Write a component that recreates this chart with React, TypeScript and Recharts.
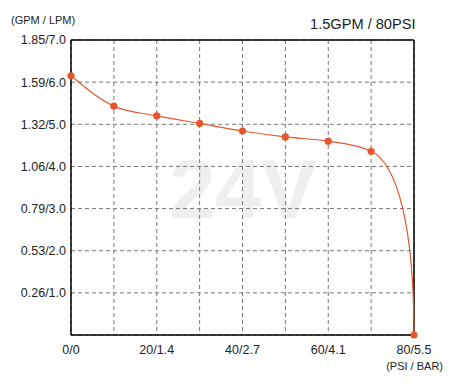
import React from 'react';
import { LineChart, Line, XAxis, YAxis, CartesianGrid, ReferenceLine } from 'recharts';

const pressurePsi = [0, 10, 20, 30, 40, 50, 60, 70, 80];
const flowLpm = [6.15, 5.43, 5.2, 5.02, 4.84, 4.7, 4.6, 4.36, 0];

const xTickValues = [0, 10, 20, 30, 40, 50, 60, 70, 80];
const xTickLabels = ['0/0', '', '20/1.4', '', '40/2.7', '', '60/4.1', '', '80/5.5'];
const yTickValues = [1, 2, 3, 4, 5, 6, 7];
const yTickLabels = ['0.26/1.0', '0.53/2.0', '0.79/3.0', '1.06/4.0', '1.32/5.0', '1.59/6.0', '1.85/7.0'];

const yAxisTitle = '(GPM / LPM)';
const xAxisTitle = '(PSI / BAR)';
const chartTitle = '1.5GPM / 80PSI';
const watermark = '24V';

const data = pressurePsi.map((p, i) => ({ psi: p, lpm: flowLpm[i] }));

const FONT = '"Liberation Sans", Arial, sans-serif';
const ORANGE = '#e4572e';

// Smooth curve: monotone-x tangents, final segment drops into a vertical tangent
function pumpCurve(context: any) {
  let pts: [number, number][] = [];
  return {
    areaStart() {},
    areaEnd() {},
    lineStart() {
      pts = [];
    },
    point(x: number, y: number) {
      pts.push([+x, +y]);
    },
    lineEnd() {
      const n = pts.length;
      if (n === 0) return;
      context.moveTo(pts[0][0], pts[0][1]);
      if (n === 1) return;
      const h: number[] = [];
      const s: number[] = [];
      for (let i = 0; i < n - 1; i++) {
        h[i] = pts[i + 1][0] - pts[i][0];
        s[i] = h[i] ? (pts[i + 1][1] - pts[i][1]) / h[i] : 0;
      }
      const t: number[] = new Array(n).fill(0);
      for (let i = 1; i < n - 1; i++) {
        const s0 = s[i - 1];
        const s1 = s[i];
        const p = (s0 * h[i] + s1 * h[i - 1]) / (h[i - 1] + h[i]);
        t[i] = (Math.sign(s0) + Math.sign(s1)) * Math.min(Math.abs(s0), Math.abs(s1), 0.5 * Math.abs(p)) || 0;
      }
      if (n > 2) {
        t[0] = (3 * s[0] - t[1]) / 2;
        t[n - 1] = (3 * s[n - 2] - t[n - 2]) / 2;
      } else {
        t[0] = s[0];
        t[1] = s[0];
      }
      for (let i = 0; i < n - 1; i++) {
        const [x0, y0] = pts[i];
        const [x1, y1] = pts[i + 1];
        const dx = h[i];
        if (i === n - 2 && n > 2) {
          const dy = y1 - y0;
          context.bezierCurveTo(x0 + 0.6 * dx, y0 + 0.6 * dx * t[i], x1, y1 - 0.6 * dy, x1, y1);
        } else {
          context.bezierCurveTo(x0 + dx / 3, y0 + (dx / 3) * t[i], x1 - dx / 3, y1 - (dx / 3) * t[i + 1], x1, y1);
        }
      }
    },
  };
}

export default function App() {
  return (
    <div style={{ position: 'absolute', left: 0, top: 0, width: 453, height: 389, background: '#fff' }}>
      <svg width={453} height={389} style={{ position: 'absolute', left: 0, top: 0 }}>
        <text x={243} y={218} textAnchor="middle" fontFamily={FONT} fontWeight="bold" fontSize={83} fill="#efefef">
          {watermark}
        </text>
        <text x={11} y={24} fontFamily={FONT} fontSize={11} fill="#222">
          {yAxisTitle}
        </text>
        <text x={415.5} y={28.5} textAnchor="end" fontFamily={FONT} fontSize={14.6} fill="#222">
          {chartTitle}
        </text>
        <text x={443} y={370} textAnchor="end" fontFamily={FONT} fontSize={11} fill="#222">
          {xAxisTitle}
        </text>
      </svg>
      <div style={{ position: 'absolute', left: 0, top: 0 }}>
        <LineChart width={453} height={389} data={data} margin={{ top: 40, right: 39, bottom: 0, left: 0 }}>
          <CartesianGrid stroke="#777" strokeDasharray="4 3" />
          <XAxis
            dataKey="psi"
            type="number"
            domain={[0, 80]}
            ticks={xTickValues}
            interval={0}
            height={54}
            tickLine={false}
            tickSize={0}
            tickMargin={10}
            axisLine={{ stroke: '#000', strokeWidth: 1.5 }}
            tick={{ fill: '#222', fontSize: 12.5, fontFamily: FONT }}
            tickFormatter={(v: number) => xTickLabels[xTickValues.indexOf(v)] ?? ''}
          />
          <YAxis
            type="number"
            domain={[0, 7]}
            ticks={yTickValues}
            interval={0}
            width={71}
            tickLine={false}
            tickSize={0}
            tickMargin={5}
            axisLine={{ stroke: '#000', strokeWidth: 1.5 }}
            tick={{ fill: '#222', fontSize: 12.5, fontFamily: FONT }}
            tickFormatter={(v: number) => yTickLabels[yTickValues.indexOf(v)] ?? ''}
          />
          <ReferenceLine y={7} stroke="#000" strokeWidth={1.5} />
          <ReferenceLine x={80} stroke="#000" strokeWidth={1.5} />
          <Line
            dataKey="lpm"
            type={pumpCurve as any}
            stroke={ORANGE}
            strokeWidth={1.2}
            dot={{ r: 3.6, fill: ORANGE, stroke: 'none' }}
            activeDot={false}
            isAnimationActive={false}
          />
        </LineChart>
      </div>
    </div>
  );
}
